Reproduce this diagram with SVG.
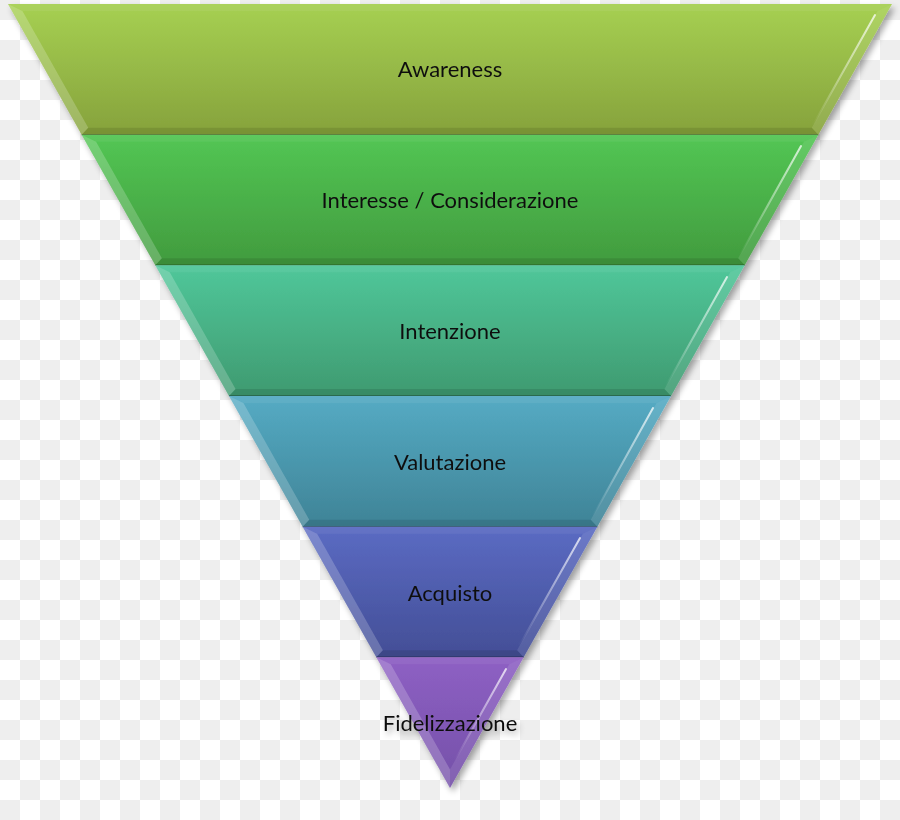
<svg xmlns="http://www.w3.org/2000/svg" width="900" height="820" viewBox="0 0 900 820">
<defs>
<pattern id="checker" width="40" height="40" patternUnits="userSpaceOnUse">
<rect width="40" height="40" fill="#ffffff"/>
<rect width="20" height="20" fill="#eeeeee"/>
<rect x="20" y="20" width="20" height="20" fill="#eeeeee"/>
</pattern>
<linearGradient id="g0" x1="0" y1="0" x2="0" y2="1"><stop offset="0" stop-color="#a6d052"/><stop offset="1" stop-color="#86a23c"/></linearGradient>
<linearGradient id="g1" x1="0" y1="0" x2="0" y2="1"><stop offset="0" stop-color="#53c654"/><stop offset="1" stop-color="#419b3e"/></linearGradient>
<linearGradient id="g2" x1="0" y1="0" x2="0" y2="1"><stop offset="0" stop-color="#50c79a"/><stop offset="1" stop-color="#3f9a70"/></linearGradient>
<linearGradient id="g3" x1="0" y1="0" x2="0" y2="1"><stop offset="0" stop-color="#55abc4"/><stop offset="1" stop-color="#3f8396"/></linearGradient>
<linearGradient id="g4" x1="0" y1="0" x2="0" y2="1"><stop offset="0" stop-color="#5b6bc3"/><stop offset="1" stop-color="#434e96"/></linearGradient>
<linearGradient id="g5" x1="0" y1="0" x2="0" y2="1"><stop offset="0" stop-color="#8e60c4"/><stop offset="1" stop-color="#7450a8"/></linearGradient>
<linearGradient id="hl" x1="0" y1="0" x2="0" y2="1"><stop offset="0" stop-color="#ffffff" stop-opacity="0.75"/><stop offset="0.6" stop-color="#ffffff" stop-opacity="0.35"/><stop offset="1" stop-color="#ffffff" stop-opacity="0"/></linearGradient>
<filter id="shadow" x="-5%" y="-5%" width="110%" height="110%">
<feGaussianBlur in="SourceAlpha" stdDeviation="3"/>
<feOffset dx="3" dy="4" result="b"/>
<feComponentTransfer><feFuncA type="linear" slope="0.35"/></feComponentTransfer>
<feMerge><feMergeNode/><feMergeNode in="SourceGraphic"/></feMerge>
</filter>
</defs>
<style>
.lt{fill:#ffffff;fill-opacity:0.2}
.rt{fill:#ffffff;fill-opacity:0.1}
.tp{fill:#ffffff;fill-opacity:0.06}
.bt{fill:#000000;fill-opacity:0.1}
.edge{stroke:#000000;stroke-opacity:0.3;stroke-width:1.5;fill:none}
.hl{stroke:url(#hl);stroke-width:2;fill:none;stroke-linecap:round}
.lbl{font-family:Lato,"Open Sans","Liberation Sans",sans-serif;font-size:22px;fill:#111111;text-anchor:middle}
</style>
<rect width="900" height="820" fill="url(#checker)"/>
<g filter="url(#shadow)">
<g id="band-awareness">
<polygon points="8,4 892,4 818.33,134.67 81.67,134.67" fill="url(#g0)"/>
<polygon class="tp" points="8,4 892,4 877.55,11 22.45,11"/>
<polygon class="lt" points="8,4 22.45,11 88.22,127.67 81.67,134.67"/>
<polygon class="rt" points="892,4 818.33,134.67 811.78,127.67 877.55,11"/>
<polygon class="bt" points="81.67,134.67 88.22,127.67 811.78,127.67 818.33,134.67"/>
<line class="hl" x1="875" y1="15" x2="813" y2="125"/>
<line class="edge" x1="81.67" y1="134.67" x2="818.33" y2="134.67"/>
<text class="lbl" x="450" y="77">Awareness</text>
</g>
<g id="band-interesse">
<polygon points="81.67,134.67 818.33,134.67 744.67,265.33 155.33,265.33" fill="url(#g1)"/>
<polygon class="tp" points="81.67,134.67 818.33,134.67 803.89,141.67 96.11,141.67"/>
<polygon class="lt" points="81.67,134.67 96.11,141.67 161.89,258.33 155.33,265.33"/>
<polygon class="rt" points="818.33,134.67 744.67,265.33 738.11,258.33 803.89,141.67"/>
<polygon class="bt" points="155.33,265.33 161.89,258.33 738.11,258.33 744.67,265.33"/>
<line class="hl" x1="801" y1="146" x2="740" y2="255"/>
<line class="edge" x1="155.33" y1="265.33" x2="744.67" y2="265.33"/>
<text class="lbl" x="450" y="208">Interesse / Considerazione</text>
</g>
<g id="band-intenzione">
<polygon points="155.33,265.33 744.67,265.33 671,396 229,396" fill="url(#g2)"/>
<polygon class="tp" points="155.33,265.33 744.67,265.33 730.22,272.33 169.78,272.33"/>
<polygon class="lt" points="155.33,265.33 169.78,272.33 235.56,389 229,396"/>
<polygon class="rt" points="744.67,265.33 671,396 664.44,389 730.22,272.33"/>
<polygon class="bt" points="229,396 235.56,389 664.44,389 671,396"/>
<line class="hl" x1="727" y1="277" x2="666" y2="386"/>
<line class="edge" x1="229" y1="396" x2="671" y2="396"/>
<text class="lbl" x="450" y="339">Intenzione</text>
</g>
<g id="band-valutazione">
<polygon points="229,396 671,396 597.33,526.67 302.67,526.67" fill="url(#g3)"/>
<polygon class="tp" points="229,396 671,396 656.55,403 243.45,403"/>
<polygon class="lt" points="229,396 243.45,403 309.22,519.67 302.67,526.67"/>
<polygon class="rt" points="671,396 597.33,526.67 590.78,519.67 656.55,403"/>
<polygon class="bt" points="302.67,526.67 309.22,519.67 590.78,519.67 597.33,526.67"/>
<line class="hl" x1="653" y1="408" x2="593" y2="516"/>
<line class="edge" x1="302.67" y1="526.67" x2="597.33" y2="526.67"/>
<text class="lbl" x="450" y="470">Valutazione</text>
</g>
<g id="band-acquisto">
<polygon points="302.67,526.67 597.33,526.67 523.67,657.33 376.33,657.33" fill="url(#g4)"/>
<polygon class="tp" points="302.67,526.67 597.33,526.67 582.88,533.67 317.12,533.67"/>
<polygon class="lt" points="302.67,526.67 317.12,533.67 382.89,650.33 376.33,657.33"/>
<polygon class="rt" points="597.33,526.67 523.67,657.33 517.11,650.33 582.88,533.67"/>
<polygon class="bt" points="376.33,657.33 382.89,650.33 517.11,650.33 523.67,657.33"/>
<line class="hl" x1="580" y1="538" x2="519" y2="646"/>
<line class="edge" x1="376.33" y1="657.33" x2="523.67" y2="657.33"/>
<text class="lbl" x="450" y="601">Acquisto</text>
</g>
<g id="band-fidelizzazione">
<polygon points="376.33,657.33 523.67,657.33 450,788" fill="url(#g5)"/>
<polygon class="tp" points="376.33,657.33 523.67,657.33 509.22,664.33 390.78,664.33"/>
<polygon class="lt" points="376.33,657.33 390.78,664.33 450,769.4 450,788"/>
<polygon class="rt" points="523.67,657.33 450,788 450,769.4 509.22,664.33"/>
<line class="hl" x1="506" y1="669" x2="455" y2="760"/>
<text class="lbl" x="450" y="731">Fidelizzazione</text>
</g>
</g>
</svg>
